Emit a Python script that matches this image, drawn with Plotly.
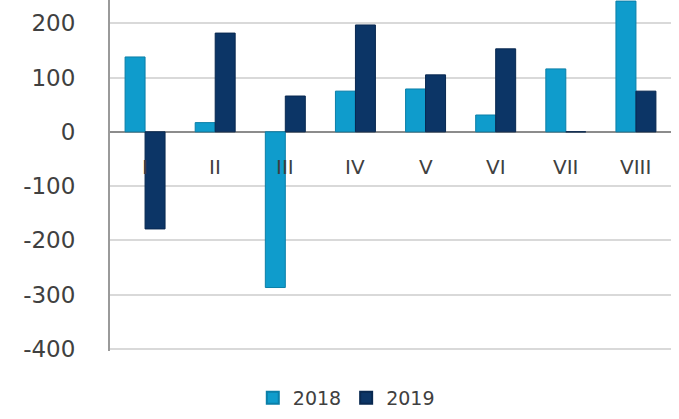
import plotly.graph_objects as go

categories = ["I", "II", "III", "IV", "V", "VI", "VII", "VIII"]
values_2018 = [138, 17, -287, 75, 79, 31, 116, 241]
values_2019 = [-179, 182, 66, 197, 105, 153, 0, 75]
y_ticks = [-400, -300, -200, -100, 0, 100, 200]
y_tick_text = ["-400", "-300", "-200", "-100", "0", "100", "200"]
label_level = -64

fig = go.Figure()
fig.add_trace(go.Bar(x=categories, y=values_2018, name="2018",
                     marker=dict(color="#0f9ccc", line=dict(color="#0b7fa8", width=1))))
fig.add_trace(go.Bar(x=categories, y=values_2019, name="2019",
                     marker=dict(color="#0c3566", line=dict(color="#082850", width=1))))

for c in categories:
    fig.add_annotation(x=c, y=label_level, text=c, showarrow=False,
                       font=dict(family="DejaVu Sans", size=20, color="#404040"))

fig.update_layout(
    width=679, height=419,
    margin=dict(l=110, r=8, t=0, b=68, pad=0),
    paper_bgcolor="white", plot_bgcolor="white",
    barmode="group", bargap=0.43, bargroupgap=0,
    font=dict(family="DejaVu Sans", color="#404040"),
    legend=dict(orientation="h", x=0.51, xanchor="center", xref="container",
                y=0.005, yanchor="bottom", yref="container",
                font=dict(size=19, color="#404040"), itemsizing="constant",
                itemwidth=30),
    showlegend=True,
)
fig.update_xaxes(showticklabels=False, showgrid=False, zeroline=False,
                 showline=False, ticks="", automargin=False)
fig.update_yaxes(range=[-404, 243], tickvals=y_ticks, ticktext=y_tick_text,
                 tickfont=dict(size=23, family="DejaVu Sans", color="#404040"),
                 showgrid=True, gridcolor="#d9d9d9", gridwidth=1.5,
                 zeroline=True, zerolinecolor="#8c8c8c", zerolinewidth=2,
                 showline=True, linecolor="#9a9a9a", linewidth=2,
                 ticks="", ticklabelstandoff=28, automargin=False)

fig.write_html("out.html",
               config={"displayModeBar": False},
               post_script="document.body.style.margin='0';document.body.style.overflow='hidden';")
